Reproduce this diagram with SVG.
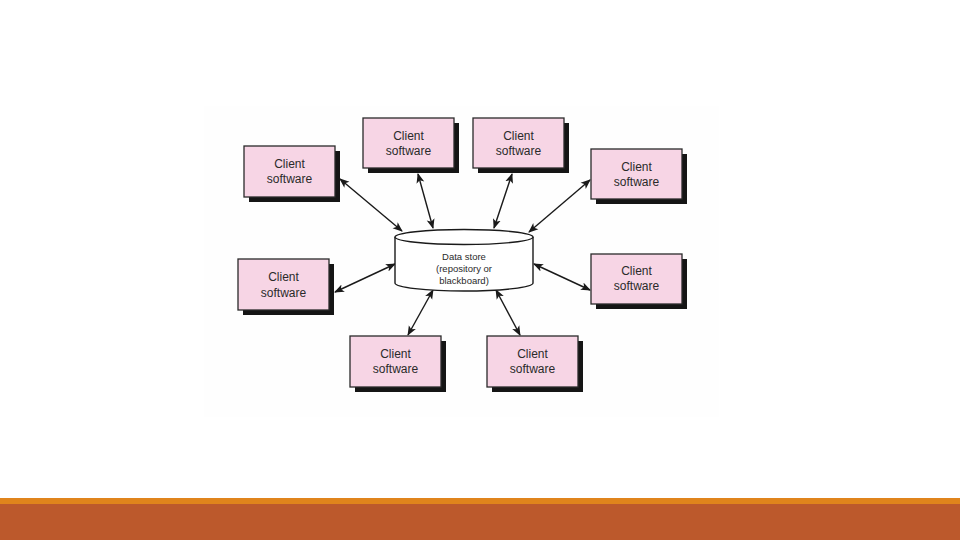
<svg xmlns="http://www.w3.org/2000/svg" width="960" height="540" viewBox="0 0 960 540">
<style>
.shadow{fill:#151515}
.box{fill:#F7D5E5;stroke:#2a2a2a;stroke-width:1.3}
.lbl{font-family:"Liberation Sans","DejaVu Sans",sans-serif;font-size:12px;fill:#2a2a2a;text-anchor:middle}
.ds{font-family:"Liberation Sans","DejaVu Sans",sans-serif;font-size:9.5px;fill:#2a2a2a;text-anchor:middle}
.conn line{stroke:#1a1a1a;stroke-width:1.4;marker-start:url(#ah);marker-end:url(#ah)}
</style>
<defs>
<marker id="ah" viewBox="0 0 10 10" refX="9" refY="5" markerWidth="10" markerHeight="10" markerUnits="userSpaceOnUse" orient="auto-start-reverse">
<path d="M0,1 L10,5 L0,9 L2.5,5 Z" fill="#1a1a1a"/>
</marker>
</defs>
<rect width="960" height="540" fill="#ffffff"/>
<rect x="204" y="106" width="515" height="311" fill="#fefefe"/>
<rect x="0" y="498" width="960" height="6" fill="#E0841C"/>
<rect x="0" y="504" width="960" height="36" fill="#BC592C"/>

<g class="conn">
<line x1="340" y1="179" x2="402" y2="231"/>
<line x1="418" y1="174" x2="433" y2="228"/>
<line x1="512" y1="174" x2="494" y2="228"/>
<line x1="590" y1="180" x2="529" y2="232"/>
<line x1="534" y1="264" x2="590" y2="290"/>
<line x1="335" y1="292" x2="395" y2="264"/>
<line x1="408" y1="335" x2="433" y2="290"/>
<line x1="496" y1="290" x2="520" y2="335"/>
</g>

<g id="datastore">
<path d="M395,237 L395,283 A69,8 0 0 0 533,283 L533,237" fill="#ffffff" stroke="#1a1a1a" stroke-width="1.4"/>
<ellipse cx="464" cy="237" rx="69" ry="7.5" fill="#ffffff" stroke="#1a1a1a" stroke-width="1.4"/>
<text class="ds" x="464" y="260">Data store</text>
<text class="ds" x="464" y="272">(repository or</text>
<text class="ds" x="464" y="284">blackboard)</text>
</g>

<g id="client1">
<rect class="shadow" x="249" y="151" width="91" height="51"/>
<rect class="box" x="244" y="146" width="91" height="51"/>
<text class="lbl" x="289.5" y="168">Client</text>
<text class="lbl" x="289.5" y="183">software</text>
</g>
<g id="client2">
<rect class="shadow" x="368" y="123" width="91" height="50"/>
<rect class="box" x="363" y="118" width="91" height="50"/>
<text class="lbl" x="408.5" y="140">Client</text>
<text class="lbl" x="408.5" y="155">software</text>
</g>
<g id="client3">
<rect class="shadow" x="478" y="123" width="91" height="50"/>
<rect class="box" x="473" y="118" width="91" height="50"/>
<text class="lbl" x="518.5" y="140">Client</text>
<text class="lbl" x="518.5" y="155">software</text>
</g>
<g id="client4">
<rect class="shadow" x="596" y="154" width="91" height="50"/>
<rect class="box" x="591" y="149" width="91" height="50"/>
<text class="lbl" x="636.5" y="171">Client</text>
<text class="lbl" x="636.5" y="186">software</text>
</g>
<g id="client5">
<rect class="shadow" x="596" y="259" width="91" height="50"/>
<rect class="box" x="591" y="254" width="91" height="50"/>
<text class="lbl" x="636.5" y="275">Client</text>
<text class="lbl" x="636.5" y="290">software</text>
</g>
<g id="client6">
<rect class="shadow" x="243" y="264" width="91" height="51"/>
<rect class="box" x="238" y="259" width="91" height="51"/>
<text class="lbl" x="283.5" y="281">Client</text>
<text class="lbl" x="283.5" y="297">software</text>
</g>
<g id="client7">
<rect class="shadow" x="355" y="341" width="91" height="51"/>
<rect class="box" x="350" y="336" width="91" height="51"/>
<text class="lbl" x="395.5" y="358">Client</text>
<text class="lbl" x="395.5" y="373">software</text>
</g>
<g id="client8">
<rect class="shadow" x="492" y="341" width="91" height="51"/>
<rect class="box" x="487" y="336" width="91" height="51"/>
<text class="lbl" x="532.5" y="358">Client</text>
<text class="lbl" x="532.5" y="373">software</text>
</g>
</svg>
